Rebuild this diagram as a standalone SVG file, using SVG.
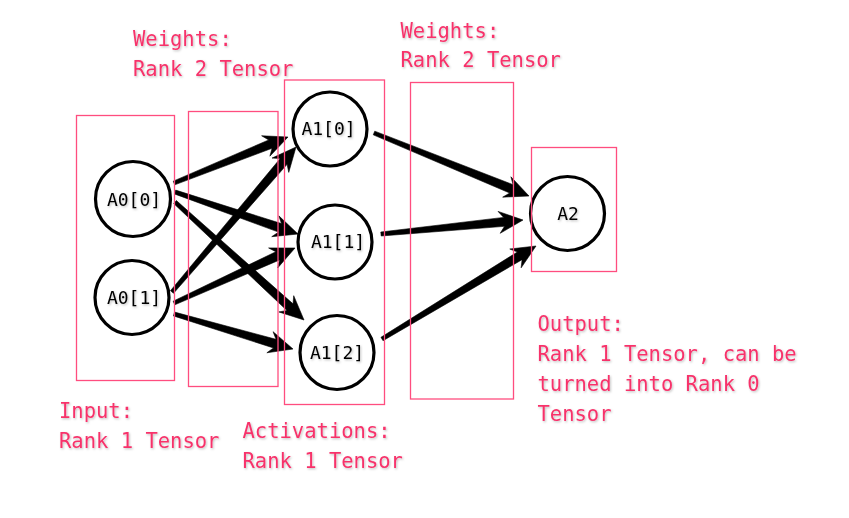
<svg xmlns="http://www.w3.org/2000/svg" width="849" height="518" viewBox="0 0 849 518">
<defs>
<filter id="sh" x="-10%" y="-30%" width="130%" height="160%">
<feDropShadow dx="1" dy="1.2" stdDeviation="0.8" flood-color="#000" flood-opacity="0.25"/>
</filter>
</defs>
<style>
.box{fill:none;stroke:#ff4d7f;stroke-width:1.3}
.node{fill:#fff;stroke:#000;stroke-width:3.2}
.nl{font-family:"DejaVu Sans Mono","Liberation Mono",monospace;font-size:18px;fill:#000;text-anchor:middle;filter:url(#sh)}
.lab{font-family:"DejaVu Sans Mono","Liberation Mono",monospace;font-size:20.5px;fill:#f7336b;filter:url(#sh)}
.arr{fill:#000;stroke:#000;stroke-width:0.6;stroke-linejoin:round}
</style>
<rect width="849" height="518" fill="#fff"/>
<g id="connectors">
<polygon class="arr" points="174.75,184.85 272.06,148.28 269.86,156.18 288,137 261.62,135.78 268.70,139.94 173.25,181.15"/>
<polygon class="arr" points="174.35,193.89 278.57,232.12 271.73,236.65 298,234 278.85,215.83 281.47,223.60 175.65,190.11"/>
<polygon class="arr" points="173.65,203.48 286.94,310.50 278.87,311.92 304,320 293.71,295.68 293.02,303.86 176.35,200.52"/>
<polygon class="arr" points="173.52,293.30 287.07,164.36 288.76,172.39 296,147 272.04,158.09 280.23,158.52 170.48,290.70"/>
<polygon class="arr" points="174.83,304.82 279.56,259.96 277.70,267.94 295,248 268.60,247.92 275.84,251.76 173.17,301.18"/>
<polygon class="arr" points="173.44,315.92 273.50,347.96 266.87,352.78 293,349 273.07,331.68 276.04,339.32 174.56,312.08"/>
<polygon class="arr" points="373.25,134.85 509.71,193.02 502.63,197.15 529,196 510.91,176.77 513.09,184.68 374.75,131.15"/>
<polygon class="arr" points="381.20,235.99 504.53,226.34 500.20,233.30 523,220 498.04,211.40 503.65,217.38 380.80,232.01"/>
<polygon class="arr" points="383.03,340.71 522.07,259.67 521.15,267.83 536,246 509.77,248.99 517.41,251.97 380.97,337.29"/>
</g>
<g id="A0_0"><circle class="node" cx="133" cy="199" r="37.5"/><text class="nl" x="134" y="206">A0[0]</text></g>
<g id="A0_1"><circle class="node" cx="132" cy="297.5" r="37"/><text class="nl" x="134" y="304">A0[1]</text></g>
<g id="A1_0"><circle class="node" cx="330" cy="129" r="37"/><text class="nl" x="328.5" y="135">A1[0]</text></g>
<g id="A1_1"><circle class="node" cx="335" cy="242" r="37"/><text class="nl" x="338" y="248">A1[1]</text></g>
<g id="A1_2"><circle class="node" cx="337" cy="352.5" r="37"/><text class="nl" x="337" y="359">A1[2]</text></g>
<g id="A2"><circle class="node" cx="567.5" cy="213.5" r="37"/><text class="nl" x="568" y="220">A2</text></g>
<g id="boxes">
<rect id="box-input" class="box" x="76.5" y="115.5" width="98" height="265"/>
<rect id="box-weights1" class="box" x="188.5" y="111.5" width="89.5" height="275"/>
<rect id="box-activations" class="box" x="284.5" y="80" width="100" height="324.5"/>
<rect id="box-weights2" class="box" x="410.5" y="82.5" width="103" height="316.5"/>
<rect id="box-output" class="box" x="531.5" y="147.5" width="85" height="124"/>
</g>
<g id="labels">
<text class="lab" x="133" y="46">Weights:</text>
<text class="lab" x="133" y="75.5">Rank 2 Tensor</text>
<text class="lab" x="400.5" y="37.5">Weights:</text>
<text class="lab" x="400.5" y="67">Rank 2 Tensor</text>
<text class="lab" x="59" y="418">Input:</text>
<text class="lab" x="59" y="447.5">Rank 1 Tensor</text>
<text class="lab" x="242.5" y="438">Activations:</text>
<text class="lab" x="242.5" y="467.5">Rank 1 Tensor</text>
<text class="lab" x="537.5" y="330.5">Output:</text>
<text class="lab" x="537.5" y="360.5">Rank 1 Tensor, can be</text>
<text class="lab" x="537.5" y="390.5">turned into Rank 0</text>
<text class="lab" x="537.5" y="420.5">Tensor</text>
</g>
</svg>
